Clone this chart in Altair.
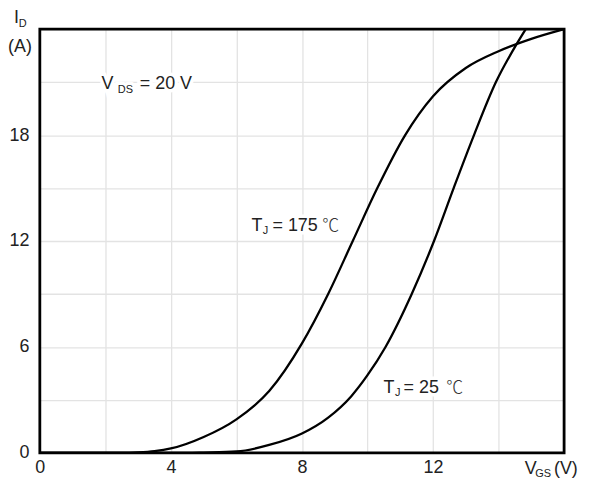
import altair as alt
import pandas as pd

# Transfer characteristics
vgs_175 = [0, 2.5, 3.0, 3.5, 4.0, 5.0, 6.0, 7.0, 8.0, 8.8, 9.55, 10.3, 11.15, 12.0, 13.0, 14.0, 15.0, 16.0]
id_175 = [0, 0, 0.03, 0.1, 0.25, 0.9, 1.9, 3.5, 6.2, 9.0, 12.0, 15.0, 18.0, 20.2, 21.8, 22.75, 23.45, 24.0]
vgs_25 = [0, 4.5, 5.0, 6.0, 7.0, 8.0, 8.8, 9.5, 10.0, 10.55, 11.35, 12.03, 12.63, 13.25, 13.92, 14.55, 14.83]
id_25 = [0, 0, 0.02, 0.08, 0.45, 1.1, 2.0, 3.2, 4.4, 6.0, 9.0, 12.0, 15.0, 18.0, 21.0, 23.15, 24.0]

x_grid = [0, 2, 4, 6, 8, 10, 12, 14, 16]
y_grid = [0, 3, 6, 9, 12, 15, 18, 21, 24]

# Annotation pieces (text, V, I, font size)
ann_text = ["V", "DS", "= 20 V",
            "T", "J", "= 175",
            "T", "J", "= 25",
            "I", "D", "(A)",
            "V", "GS", "(V)"]
ann_x = [1.88, 2.38, 3.05,
         6.46, 6.8, 7.1,
         10.49, 10.84, 11.1,
         -0.79, -0.64, -0.97,
         14.8, 15.12, 15.69]
ann_y = [20.62, 20.39, 20.62,
         12.58, 12.39, 12.58,
         3.42, 3.23, 3.42,
         24.34, 24.11, 22.7,
         -1.2, -1.38, -1.2]
ann_size = [18, 11, 18,
            18, 11, 18,
            18, 11, 18,
            18, 11, 18,
            18, 11, 18]

deg_text = ["\u2103", "\u2103"]
deg_x = [8.62, 12.4]
deg_y = [12.58, 3.42]

curves = pd.concat([
    pd.DataFrame({"vgs": vgs_175, "id": id_175, "series": "175"}),
    pd.DataFrame({"vgs": vgs_25, "id": id_25, "series": "25"}),
])
ann = pd.DataFrame({"text": ann_text, "x": ann_x, "y": ann_y, "size": ann_size})
deg = pd.DataFrame({"text": deg_text, "x": deg_x, "y": deg_y})
frame = pd.DataFrame({"x": [x_grid[0]], "x2": [x_grid[-1]], "y": [y_grid[0]], "y2": [y_grid[-1]]})

FONT = "Liberation Sans"
xs = alt.Scale(domain=[0, 16], nice=False, zero=False, clamp=False)
ys = alt.Scale(domain=[0, 24], nice=False, zero=False, clamp=False)

x_axis = alt.Axis(values=x_grid, title=None, grid=True, gridColor="#e3e3e3", gridWidth=1.3,
                  tickSize=0, domain=False, labelPadding=6, labelFontSize=18, labelFont=FONT,
                  labelColor="#222", labelFlush=False,
                  labelExpr="(datum.value % 4 == 0 && datum.value < 16) ? datum.label : ''")
y_axis = alt.Axis(values=y_grid, title=None, grid=True, gridColor="#e3e3e3", gridWidth=1.3,
                  tickSize=0, domain=False, labelPadding=11, labelFontSize=18, labelFont=FONT,
                  labelColor="#222", labelFlush=False,
                  labelExpr="(datum.value % 6 == 0 && datum.value < 24) ? datum.label : ''")

lines = alt.Chart(curves).mark_line(color="black", strokeWidth=2.3, interpolate="monotone", clip=True).encode(
    x=alt.X("vgs:Q", scale=xs, axis=x_axis),
    y=alt.Y("id:Q", scale=ys, axis=y_axis),
    detail="series:N",
)

halo = alt.Chart(ann).mark_text(font=FONT, align="left", baseline="alphabetic", stroke="white",
                                strokeWidth=7, fill="white").encode(
    x=alt.X("x:Q", scale=xs), y=alt.Y("y:Q", scale=ys), text="text:N",
    size=alt.Size("size:Q", scale=None, legend=None),
)
halo_deg = alt.Chart(deg).mark_text(font="Noto Sans CJK SC", align="left", baseline="alphabetic",
                                    stroke="white", strokeWidth=7, fill="white", fontSize=17).encode(
    x=alt.X("x:Q", scale=xs), y=alt.Y("y:Q", scale=ys), text="text:N",
)
texts = alt.Chart(ann).mark_text(font=FONT, align="left", baseline="alphabetic", color="#222").encode(
    x=alt.X("x:Q", scale=xs), y=alt.Y("y:Q", scale=ys), text="text:N",
    size=alt.Size("size:Q", scale=None, legend=None),
)
degs = alt.Chart(deg).mark_text(font="Noto Sans CJK SC", align="left", baseline="alphabetic",
                                color="#333", fontSize=17, fontWeight=300).encode(
    x=alt.X("x:Q", scale=xs), y=alt.Y("y:Q", scale=ys), text="text:N",
)
border = alt.Chart(frame).mark_rect(fillOpacity=0, stroke="black", strokeWidth=2.8).encode(
    x=alt.X("x:Q", scale=xs), x2="x2:Q", y=alt.Y("y:Q", scale=ys), y2="y2:Q",
)

chart = alt.layer(lines, halo, halo_deg, texts, degs, border).properties(
    width=527, height=426,
    autosize=alt.AutoSizeParams(type="none"),
    padding={"left": 32, "top": 20, "right": 18, "bottom": 24},
).configure(background="white", view=alt.ViewConfig(stroke=None, strokeWidth=0))

chart.save("out.html", embed_options={"renderer": "svg", "actions": False})
